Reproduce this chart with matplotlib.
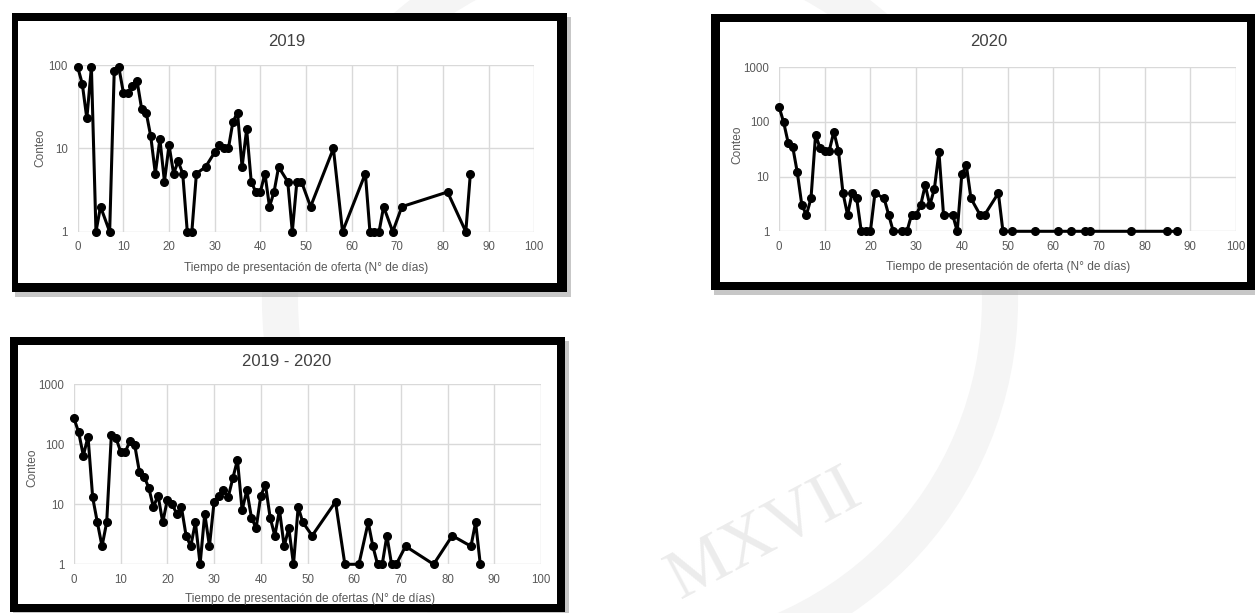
import matplotlib
matplotlib.use("Agg")
import matplotlib.pyplot as plt
from matplotlib.patches import Rectangle, Ellipse
from matplotlib.ticker import FixedLocator, FixedFormatter

# ---- data -------------------------------------------------------------
dias_2019 = [0, 1, 2, 3, 4, 5, 7, 8, 9, 10, 11, 12, 13, 14, 15, 16, 17, 18, 19,
             20, 21, 22, 23, 24, 25, 26, 28, 30, 31, 32, 33, 34, 35, 36, 37, 38,
             39, 40, 41, 42, 43, 44, 46, 47, 48, 49, 51, 56, 58, 63, 64, 65, 66,
             67, 69, 71, 81, 85, 86]
conteo_2019 = [95, 60, 23, 95, 1, 2, 1, 85, 95, 47, 47, 57, 65, 30, 27, 14, 5, 13,
               4, 11, 5, 7, 5, 1, 1, 5, 6, 9, 11, 10, 10, 21, 27, 6, 17, 4, 3, 3,
               5, 2, 3, 6, 4, 1, 4, 4, 2, 10, 1, 5, 1, 1, 1, 2, 1, 2, 3, 1, 5]

dias_2020 = [0, 1, 2, 3, 4, 5, 6, 7, 8, 9, 10, 11, 12, 13, 14, 15, 16, 17, 18, 19,
             20, 21, 23, 24, 25, 27, 28, 29, 30, 31, 32, 33, 34, 35, 36, 38, 39,
             40, 41, 42, 44, 45, 48, 49, 51, 56, 61, 64, 67, 68, 77, 85, 87]
conteo_2020 = [190, 100, 42, 35, 12, 3, 2, 4, 58, 33, 30, 30, 66, 30, 5, 2, 5, 4,
               1, 1, 1, 5, 4, 2, 1, 1, 1, 2, 2, 3, 7, 3, 6, 28, 2, 2, 1, 11, 16, 4,
               2, 2, 5, 1, 1, 1, 1, 1, 1, 1, 1, 1, 1]

dias_total = list(range(0, 50)) + [51, 56, 58, 61, 63, 64, 65, 66, 67, 68, 69,
                                   71, 77, 81, 85, 86, 87]
conteo_total = [270, 158, 65, 134, 13, 5, 2, 5, 143, 126, 75, 75, 115, 97, 35, 29,
                19, 9, 14, 5, 12, 10, 7, 9, 3, 2, 5, 1, 7, 2, 11, 14, 17, 13, 27,
                55, 8, 17, 6, 4, 14, 21, 6, 3, 8, 2, 4, 1, 9, 5,
                3, 11, 1, 1, 5, 2, 1, 1, 3, 1, 1, 2, 1, 3, 2, 5, 1]

x_ticks = [0, 10, 20, 30, 40, 50, 60, 70, 80, 90, 100]
y_ticks_100 = [1, 10, 100]
y_ticks_1000 = [1, 10, 100, 1000]

titulos = ["2019", "2020", "2019 - 2020"]
etiqueta_x = "Tiempo de presentación de oferta (N° de días)"
etiqueta_x_total = "Tiempo de presentación de ofertas (N° de días)"
etiqueta_y = "Conteo"

# ---- figure -----------------------------------------------------------
W, H = 1255, 613
plt.rcParams["font.family"] = ["Liberation Sans", "DejaVu Sans"]
fig = plt.figure(figsize=(W / 100, H / 100), dpi=100)
fig.patch.set_facecolor("white")

TXT = "#595959"
GRID = "#d9d9d9"
FS_TICK = 8.3
FS_LABEL = 8.6


def fx(x):
    return x / W


def fy(y):
    return 1 - y / H


def rect(x0, y0, x1, y1, **kw):
    r = Rectangle((fx(x0), fy(y1)), (x1 - x0) / W, (y1 - y0) / H,
                  transform=fig.transFigure, **kw)
    fig.add_artist(r)
    return r


# faint seal in the background
fig.add_artist(Ellipse((fx(640), fy(300)), 720 / W, 720 / H,
                       transform=fig.transFigure, facecolor="none",
                       edgecolor="#f5f5f5", lw=26, zorder=-5))
fig.text(fx(765), fy(535), "MXVII", fontsize=50, color="#ececec",
         family=["Liberation Serif", "DejaVu Serif"], rotation=28,
         ha="center", va="center", zorder=-4)


def framed(outer, inner):
    x0, y0, x1, y1 = outer
    rect(x0 + 3, y0 + 4, x1 + 4, y1 + 5, facecolor="#9a9a9a", alpha=0.55,
         edgecolor="none", zorder=-3)
    rect(x0, y0, x1, y1, facecolor="black", edgecolor="none", zorder=-2)
    rect(*inner, facecolor="white", edgecolor="none", zorder=-1)


def panel(plot_box, x, y, yticks):
    x0, y0, x1, y1 = plot_box
    ax = fig.add_axes([fx(x0), fy(y1), (x1 - x0) / W, (y1 - y0) / H])
    ax.set_facecolor("none")
    ax.plot(x, y, color="black", lw=2.2, marker="o", markersize=5.5,
            clip_on=False, zorder=3)
    ax.set_yscale("log")
    ax.set_xlim(0, 100)
    ax.set_ylim(yticks[0], yticks[-1])
    ax.xaxis.set_major_locator(FixedLocator(x_ticks))
    ax.yaxis.set_major_locator(FixedLocator(yticks))
    ax.yaxis.set_major_formatter(FixedFormatter([str(t) for t in yticks]))
    ax.yaxis.set_minor_locator(FixedLocator([]))
    ax.grid(True, color=GRID, lw=1.0)
    for s in ax.spines.values():
        s.set_visible(False)
    ax.tick_params(length=0, labelsize=FS_TICK, colors=TXT)
    ax.tick_params(axis="x", pad=7)
    ax.tick_params(axis="y", pad=7)
    return ax


# 2019
framed((12, 13, 567, 292), (18, 21, 557, 283))
panel((77.7, 65.3, 534.3, 231.7), dias_2019, conteo_2019, y_ticks_100)
fig.text(fx(287), fy(42), titulos[0], fontsize=12, color="#404040",
         ha="center", va="center")
fig.text(fx(306), fy(268), etiqueta_x, fontsize=FS_LABEL, color=TXT,
         ha="center", va="center")
fig.text(fx(40), fy(148), etiqueta_y, fontsize=FS_LABEL, color=TXT,
         ha="center", va="center", rotation=90)

# 2020
framed((711, 14, 1255, 290), (720, 22, 1247, 282))
panel((779, 67.3, 1236, 231.3), dias_2020, conteo_2020, y_ticks_1000)
fig.text(fx(989), fy(42), titulos[1], fontsize=12, color="#404040",
         ha="center", va="center")
fig.text(fx(1008), fy(267), etiqueta_x, fontsize=FS_LABEL, color=TXT,
         ha="center", va="center")
fig.text(fx(737), fy(145), etiqueta_y, fontsize=FS_LABEL, color=TXT,
         ha="center", va="center", rotation=90)

# 2019 - 2020
framed((10, 337, 565, 612), (18, 345, 557, 604))
panel((74, 384.3, 541, 564.3), dias_total, conteo_total, y_ticks_1000)
fig.text(fx(287), fy(362), titulos[2], fontsize=12, color="#404040",
         ha="center", va="center")
fig.text(fx(310), fy(599), etiqueta_x_total, fontsize=FS_LABEL, color=TXT,
         ha="center", va="center")
fig.text(fx(32), fy(468), etiqueta_y, fontsize=FS_LABEL, color=TXT,
         ha="center", va="center", rotation=90)

fig.savefig("out.png", dpi=100, facecolor="white")
